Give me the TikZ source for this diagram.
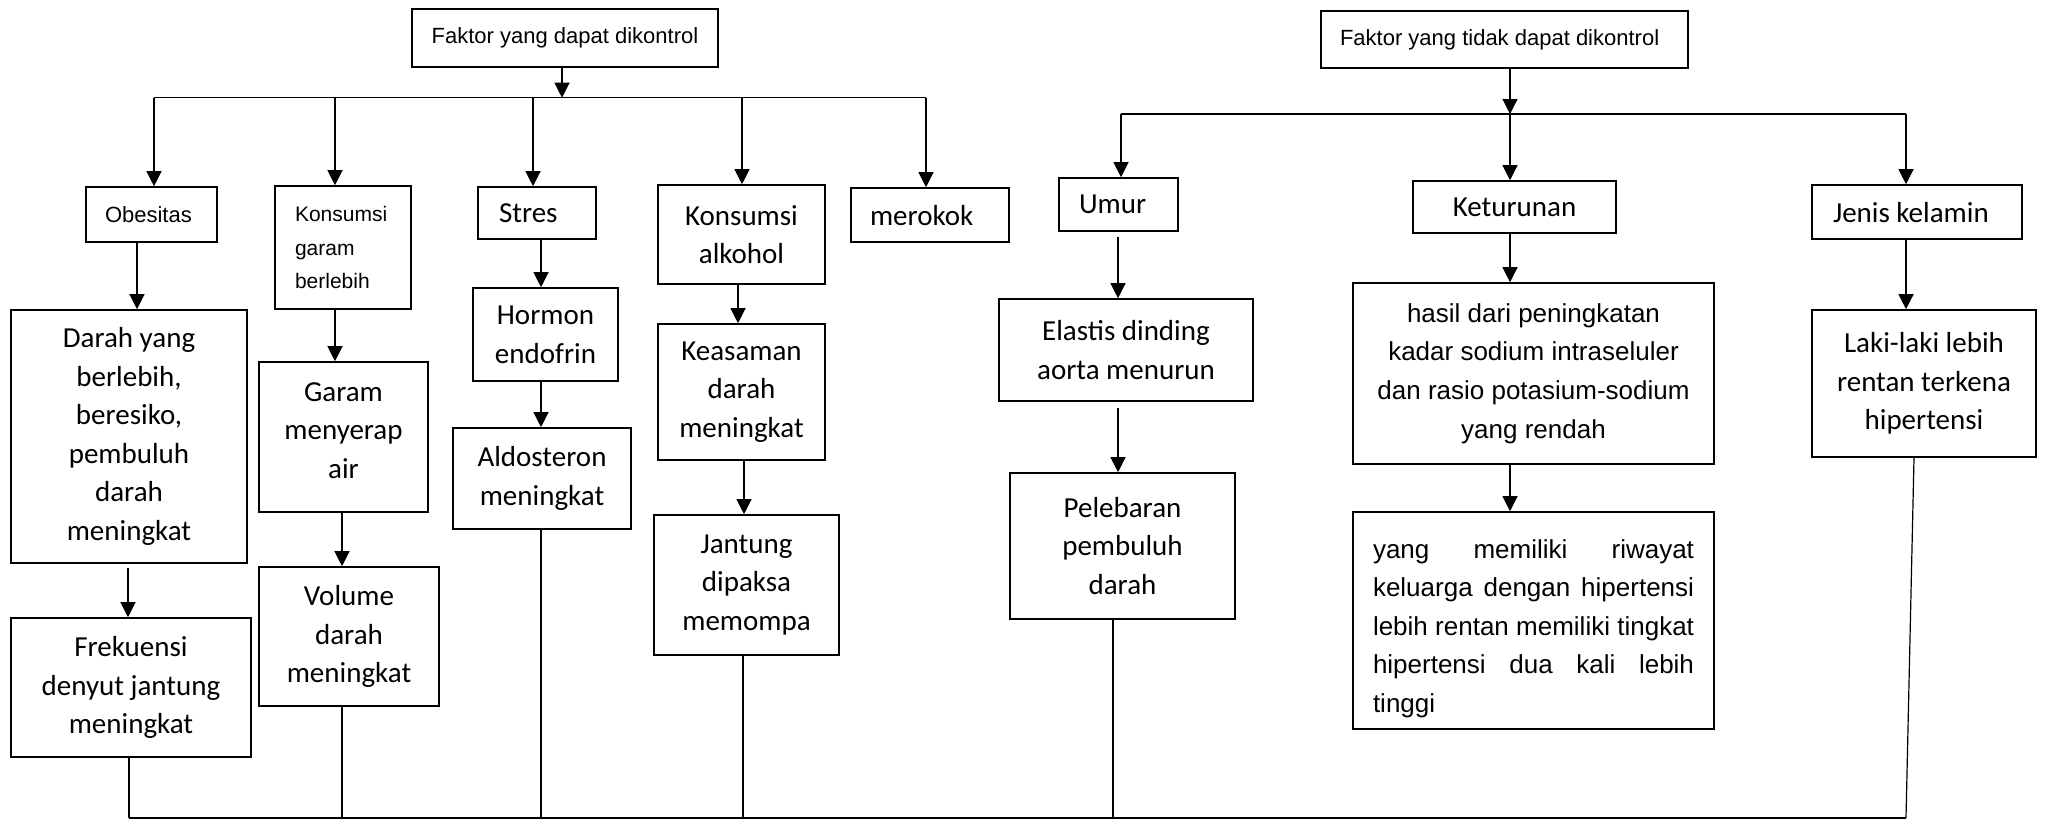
\documentclass[tikz,border=0pt]{standalone}
\usepackage{fontspec}
\newfontfamily\carl{Carlito}
\newfontfamily\arl{Liberation Sans}
\usetikzlibrary{arrows.meta}
\begin{document}
\begin{tikzpicture}[x=0.5pt,y=-0.5pt,
  box/.style={draw, line width=0.8pt, inner sep=0pt, align=center},
  cal/.style={font=\carl\fontsize{14.5}{19.3}\selectfont},
  one/.style={text depth=0pt},
  ar/.style={font=\arl\fontsize{13}{19.3}\selectfont},
  ars/.style={font=\arl\fontsize{11}{14}\selectfont},
  ln/.style={line width=0.6pt},
  arr/.style={line width=0.6pt, -{Triangle[length=7.5pt,width=7.5pt]}}]
\useasboundingbox (0,0) rectangle (2045,820);

% top boxes
\node[box,ars,minimum width=153pt,minimum height=29pt] (topL) at (565,38) {Faktor yang dapat dikontrol};
\node[box,ars,align=flush left,text width=164.5pt,minimum width=183.5pt,minimum height=28.5pt] (topR) at (1504.5,39.5) {Faktor yang tidak dapat dikontrol};

% first row left
\node[box,ars,align=flush left,text width=46.5pt,minimum width=65.5pt,minimum height=27.5pt] (obes) at (151.5,214.5) {Obesitas};
\node[box,font=\arl\fontsize{10.5}{16.7}\selectfont,align=flush left,text width=48pt,minimum width=68pt,minimum height=61.5pt] (konsG) at (343,247.5) {Konsumsi\\garam\\berlebih};
\node[box,cal,one,align=flush left,text width=38pt,minimum width=59pt,minimum height=26pt] (stres) at (537,213) {Stres};
\node[box,cal,minimum width=83.5pt,minimum height=49.5pt] (alk) at (741.5,234.5) {Konsumsi\\alkohol};
\node[box,cal,one,align=flush left,text width=60pt,minimum width=79pt,minimum height=27pt] (merokok) at (930,215) {merokok};

% first row right
\node[box,cal,one,align=flush left,text width=39.5pt,minimum width=59.5pt,minimum height=26.5pt] (umur) at (1118.5,204.5) {Umur};
\node[box,cal,one,minimum width=101.5pt,minimum height=26pt] (ket) at (1514.5,207) {Keturunan};
\node[box,cal,one,align=flush left,text width=84pt,minimum width=105pt,minimum height=27pt] (jenis) at (1917,212) {Jenis kelamin};

% lower boxes left
\node[box,cal,minimum width=118pt,minimum height=126.5pt] (darah) at (129,436.5) {Darah yang\\berlebih,\\beresiko,\\pembuluh\\darah\\meningkat};
\node[box,cal,minimum width=120pt,minimum height=69.5pt] (frek) at (131,687.5) {Frekuensi\\denyut jantung\\meningkat};
\node[box,cal,minimum width=84.5pt,minimum height=75pt] (garam) at (343.5,437) {Garam\\menyerap\\air\rule[-6.5pt]{0pt}{6.5pt}};
\node[box,cal,minimum width=90pt,minimum height=69.5pt] (volume) at (349,636.5) {Volume\\darah\\meningkat};
\node[box,cal,minimum width=72.5pt,minimum height=46.5pt] (hormon) at (545.5,334.5) {Hormon\\endofrin};
\node[box,cal,minimum width=89pt,minimum height=50.5pt] (aldo) at (542,478.5) {Aldosteron\\meningkat};
\node[box,cal,minimum width=83.5pt,minimum height=68pt] (keas) at (741.5,392) {Keasaman\\darah\\meningkat};
\node[box,cal,minimum width=92.5pt,minimum height=70pt] (jantung) at (746.5,585) {Jantung\\dipaksa\\memompa};

% lower boxes right
\node[box,cal,minimum width=127pt,minimum height=51pt] (elastis) at (1126,350) {Elastis dinding\\aorta menurun};
\node[box,cal,minimum width=112.5pt,minimum height=73pt] (pelebaran) at (1122.5,546) {Pelebaran\\pembuluh\\darah};
\node[box,ar,minimum width=180.5pt,minimum height=90.5pt] (hasil) at (1533.5,373.5) {hasil dari peningkatan\\kadar sodium intraseluler\\dan rasio potasium-sodium\\yang rendah};
\node[box,ar,align=flush left,text width=160.5pt,minimum width=180.5pt,minimum height=108.5pt] (yang) at (1533.5,620.5) {\rule{0pt}{17.5pt}\makebox[160.5pt][s]{yang memiliki riwayat}\\\makebox[160.5pt][s]{keluarga dengan hipertensi}\\\makebox[160.5pt][s]{lebih rentan memiliki tingkat}\\\makebox[160.5pt][s]{hipertensi dua kali lebih}\\tinggi};
\node[box,cal,minimum width=112pt,minimum height=73.5pt] (laki) at (1924,383.5) {Laki-laki lebih\\rentan terkena\\hipertensi};

% bus coordinates
\coordinate (lt) at (562,97.7);
\coordinate (l1) at (154,97.7);
\coordinate (l2) at (335,97.7);
\coordinate (l3) at (533,97.7);
\coordinate (l4) at (742,97.7);
\coordinate (l5) at (926,97.7);
\coordinate (rt) at (1510,114);
\coordinate (r1) at (1121,114);
\coordinate (r2) at (1510,114);
\coordinate (r3) at (1906,114);
\coordinate (b1) at (129,818);
\coordinate (b2) at (342,818);
\coordinate (b3) at (541,818);
\coordinate (b4) at (743,818);
\coordinate (b5) at (1113,818);
\coordinate (b6) at (1906,818);
% helper x positions
\coordinate (xa) at (137,0);
\coordinate (xb) at (128,0);
\coordinate (xd) at (342,0);
\coordinate (xe) at (541,0);
\coordinate (xf) at (738,0);
\coordinate (xg) at (744,0);
\coordinate (xh) at (1118,0);

% top connectors
\draw[ln] (l1) -- (l5);
\draw[arr] (lt |- topL.south) -- (lt);
\draw[arr] (l1) -- (l1 |- obes.north);
\draw[arr] (l2) -- (l2 |- konsG.north);
\draw[arr] (l3) -- (l3 |- stres.north);
\draw[arr] (l4) -- (l4 |- alk.north);
\draw[arr] (l5) -- (l5 |- merokok.north);

\draw[ln] (r1) -- (r3);
\draw[arr] (rt |- topR.south) -- (rt);
\draw[arr] (r1) -- (r1 |- umur.north);
\draw[arr] (r2) -- (r2 |- ket.north);
\draw[arr] (r3) -- (r3 |- jenis.north);

% chains
\draw[arr] (xa |- obes.south) -- (xa |- darah.north);
\draw[arr,shorten <=2pt] (xb |- darah.south) -- (xb |- frek.north);
\draw[arr] (l2 |- konsG.south) -- (l2 |- garam.north);
\draw[arr] (xd |- garam.south) -- (xd |- volume.north);
\draw[arr] (xe |- stres.south) -- (xe |- hormon.north);
\draw[arr] (xe |- hormon.south) -- (xe |- aldo.north);
\draw[arr] (xf |- alk.south) -- (xf |- keas.north);
\draw[arr] (xg |- keas.south) -- (xg |- jantung.north);
\draw[arr,shorten <=2.5pt] (xh |- umur.south) -- (xh |- elastis.north);
\draw[arr,shorten <=3pt] (xh |- elastis.south) -- (xh |- pelebaran.north);
\draw[arr] (r2 |- ket.south) -- (r2 |- hasil.north);
\draw[arr] (r2 |- hasil.south) -- (r2 |- yang.north);
\draw[arr] (r3 |- jenis.south) -- (r3 |- laki.north);

% bottom bus
\draw[ln] (b1) -- (b6);
\draw[ln] (b1 |- frek.south) -- (b1);
\draw[ln] (b2 |- volume.south) -- (b2);
\draw[ln] (b3 |- aldo.south) -- (b3);
\draw[ln] (b4 |- jantung.south) -- (b4);
\draw[ln] (b5 |- pelebaran.south) -- (b5);
\draw[ln] ([xshift=-5pt]laki.south) -- (b6);
\end{tikzpicture}
\end{document}
